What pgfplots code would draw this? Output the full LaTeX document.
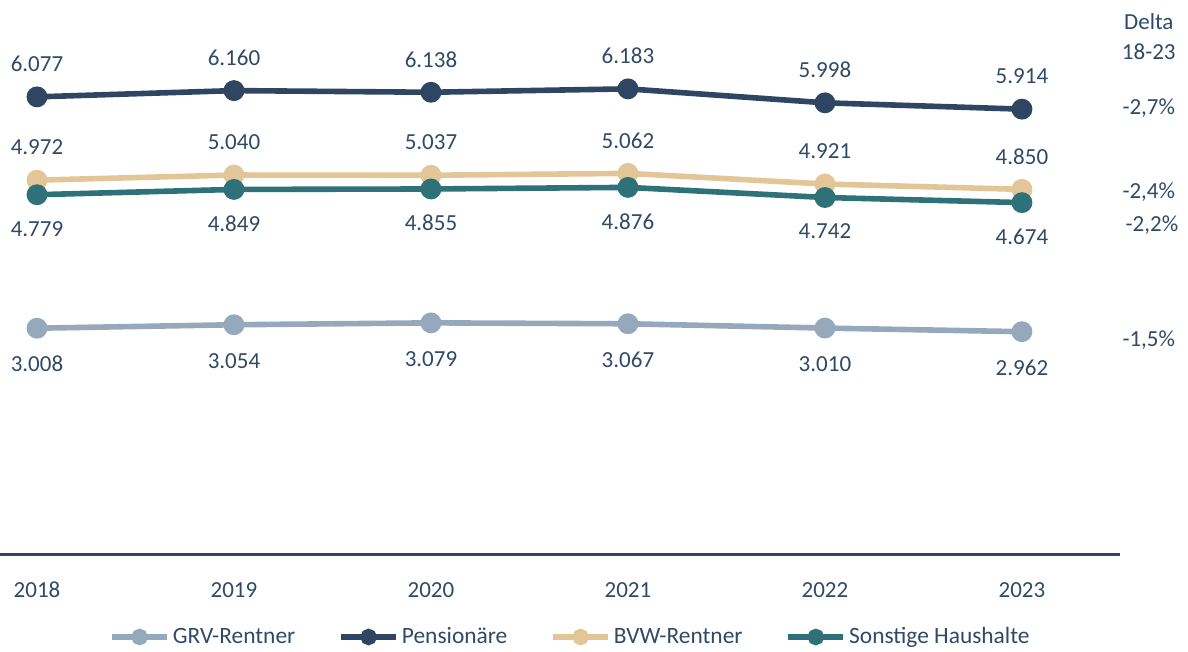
\documentclass[border=0pt]{standalone}
\usepackage{fontspec}
\setmainfont{Carlito}
\usepackage{pgfplots}
\pgfplotsset{compat=1.18}
\definecolor{navy}{HTML}{2E4661}
\definecolor{grv}{HTML}{96A9BC}
\definecolor{bvw}{HTML}{E2C697}
\definecolor{teal}{HTML}{2E7178}
\definecolor{txt}{HTML}{2F4A66}

\begin{document}
\begin{tikzpicture}
\begin{axis}[
    scale only axis,
    width=594pt, height=326pt,
    xmin=-0.1878, xmax=5.843,
    ymin=-1287, ymax=7362,
    axis lines=none,
    clip=false,
    point meta=explicit symbolic,
    every node near coord/.append style={font=\fontsize{11.5}{14}\selectfont, text=txt, anchor=center},
    every axis plot/.append style={line width=2.8pt, mark=*, mark size=3.8pt},
    legend columns=4,
    legend style={at={(0.4806,0.023)}, anchor=center, draw=none, fill=none,
        font=\fontsize{11.7}{14}\selectfont, text=txt, inner sep=0pt,
        /tikz/every even column/.append style={column sep=20pt},
        nodes={inner sep=1.5pt}},
    legend image code/.code={
        \draw[#1, mark repeat=2, mark phase=2, mark options={scale=0.72}]
            plot coordinates {(0pt,0pt) (13.75pt,0pt) (27.5pt,0pt)};
    },
]
% baseline
\addplot[navy, line width=1.5pt, mark=none, forget plot] coordinates {(-0.1878,0) (5.497,0)};

\addplot[grv, nodes near coords, every node near coord/.append style={yshift=-18pt}] coordinates {
    (0,3008) [3.008] (1,3054) [3.054] (2,3079) [3.079]
    (3,3067) [3.067] (4,3010) [3.010] (5,2962) [2.962]};
\addlegendentry{GRV-Rentner}
\addplot[navy, nodes near coords, every node near coord/.append style={yshift=16.5pt}] coordinates {
    (0,6077) [6.077] (1,6160) [6.160] (2,6138) [6.138]
    (3,6183) [6.183] (4,5998) [5.998] (5,5914) [5.914]};
\addlegendentry{Pensionäre}
\addplot[bvw, nodes near coords, every node near coord/.append style={yshift=16.5pt}] coordinates {
    (0,4972) [4.972] (1,5040) [5.040] (2,5037) [5.037]
    (3,5062) [5.062] (4,4921) [4.921] (5,4850) [4.850]};
\addlegendentry{BVW-Rentner}
\addplot[teal, nodes near coords, every node near coord/.append style={yshift=-17pt}] coordinates {
    (0,4779) [4.779] (1,4849) [4.849] (2,4855) [4.855]
    (3,4876) [4.876] (4,4742) [4.742] (5,4674) [4.674]};
\addlegendentry{Sonstige Haushalte}

% year labels
\begin{scope}[every node/.style={font=\fontsize{11.5}{14}\selectfont, text=txt}]
\node at (axis cs:0,-464) {2018};
\node at (axis cs:1,-464) {2019};
\node at (axis cs:2,-464) {2020};
\node at (axis cs:3,-464) {2021};
\node at (axis cs:4,-464) {2022};
\node at (axis cs:5,-464) {2023};
% delta column
\node at (axis cs:5.644,7070) {Delta};
\node at (axis cs:5.644,6672) {18-23};
\node at (axis cs:5.644,5929) {-2,7\%};
\node at (axis cs:5.644,4815) {-2,4\%};
\node at (axis cs:5.66,4377) {-2,2\%};
\node at (axis cs:5.644,2852) {-1,5\%};
\end{scope}
\end{axis}
\pgfresetboundingbox
\path (current axis.south west) rectangle (current axis.north east);
\end{tikzpicture}
\end{document}
